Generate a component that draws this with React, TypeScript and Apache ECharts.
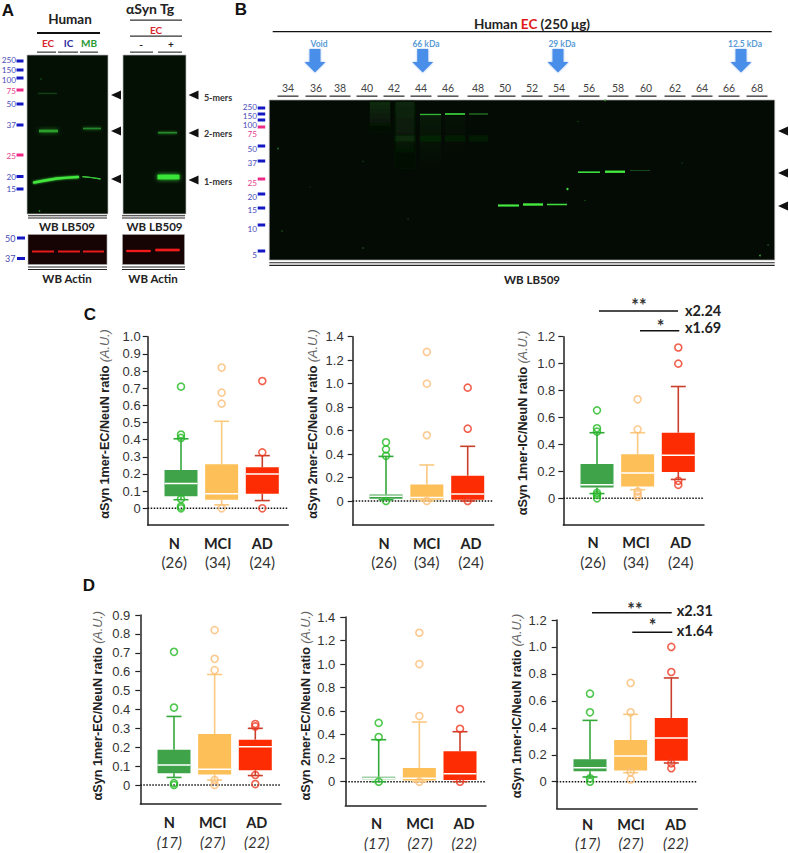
import React, { useEffect, useRef } from "react";
import * as echarts from "echarts";

// ---------- chart values (low, q1, median, q3, high) per group N / MCI / AD ----------
const GROUPS = ["N", "MCI", "AD"];
const COUNTS_C = ["(26)", "(34)", "(24)"];
const COUNTS_D = ["(17)", "(27)", "(22)"];

const C1_BOX = [[0.05, 0.07, 0.144, 0.223, 0.405], [0.02, 0.05, 0.085, 0.256, 0.507], [0.045, 0.085, 0.2, 0.239, 0.307]];
const C1_OUT = [[0.709, 0.43, 0.41, 0.054, 0.01, 0], [0.82, 0.674, 0.61, 0], [0.742, 0.326, 0]];
const C2_BOX = [[0.01, 0.02, 0.04, 0.055, 0.38], [0, 0.01, 0.03, 0.14, 0.307], [0, 0.01, 0.06, 0.216, 0.466]];
const C2_OUT = [[0.5, 0.44, 0.385, 0], [1.27, 1.0, 0.56, 0], [0.966, 0.616, 0]];
const C3_BOX = [[0.035, 0.08, 0.1, 0.255, 0.487], [0.064, 0.087, 0.188, 0.327, 0.487], [0.14, 0.195, 0.32, 0.487, 0.83]];
const C3_OUT = [[0.653, 0.52, 0.495, 0.04, 0.025, 0], [0.735, 0.512, 0.05, 0.03, 0.01], [1.12, 1.0, 0.13, 0.1]];
const D1_BOX = [[0.04, 0.062, 0.106, 0.187, 0.363], [0.026, 0.056, 0.083, 0.27, 0.585], [0.05, 0.078, 0.203, 0.24, 0.3]];
const D1_OUT = [[0.705, 0.41, 0.01, 0], [0.82, 0.668, 0.608, 0.026, 0], [0.323, 0.31, 0.053, 0.005]];
const D2_BOX = [[0, 0.02, 0.03, 0.042, 0.357], [0, 0.01, 0.03, 0.116, 0.507], [0, 0.014, 0.068, 0.258, 0.425]];
const D2_OUT = [[0.5, 0.38, 0], [1.266, 1.0, 0.558, 0], [0.618, 0.45, 0]];
const D3_BOX = [[0.035, 0.077, 0.104, 0.166, 0.455], [0.067, 0.084, 0.19, 0.31, 0.5], [0.139, 0.156, 0.324, 0.473, 0.77]];
const D3_OUT = [[0.653, 0.515, 0.025, 0], [0.733, 0.515, 0.07, 0.017], [1.0, 0.814, 0.136, 0.1]];

const TICKS_10 = [0, 0.1, 0.2, 0.3, 0.4, 0.5, 0.6, 0.7, 0.8, 0.9, 1.0];
const TICKS_09 = [0, 0.1, 0.2, 0.3, 0.4, 0.5, 0.6, 0.7, 0.8, 0.9];
const TICKS_14 = [0, 0.2, 0.4, 0.6, 0.8, 1.0, 1.2, 1.4];
const TICKS_12 = [0, 0.2, 0.4, 0.6, 0.8, 1.0, 1.2];

const LANES = ["34","36","38","40","42","44","46","48","50","52","54","56","58","60","62","64","66","68"];
const SEC_MARKERS = ["Void", "66 kDa", "29 kDa", "12.5 kDa"];
const MW_B = ["250","150","100","75","50","37","25","20","15","10","5"];
const MW_A = ["250","150","100","75","50","37","25","20","15"];
const OLIGOMERS = ["5-mers", "2-mers", "1-mers"];

// ---------- layout ----------
const SANS = "'Liberation Sans', Arial, sans-serif";
const LATO = "Lato, 'Open Sans', sans-serif";
const FILL = ["#3fa34a", "#fdbf57", "#fe2c02"];
const WHISK = ["#35a83c", "#fbc97f", "#c8402c"];
const RING = ["#22b922", "#fbbd74", "#ef3a22"];
const BOX_W = 33;
const CAP_W = 15;

const PANELS = [
  { box: C1_BOX, out: C1_OUT, ticks: TICKS_10, left: 147.7, right: 288.3, top: 336.7, zero: 508.3, bottom: 525, max: 1.0, c: [181, 222, 262.3], labelX: [174.3, 217.7, 262.3], labelY: 543.3, countY: 561.7, counts: COUNTS_C, italic: false, title: "αSyn 1mer-EC/NeuN ratio", titleX: 105, titleY: 424, margin: 7 },
  { box: C2_BOX, out: C2_OUT, ticks: TICKS_14, left: 352.7, right: 493.7, top: 336.7, zero: 501, bottom: 525, max: 1.4, c: [386, 427.3, 467.7], labelX: [384, 426.7, 471], labelY: 543.3, countY: 561.7, counts: COUNTS_C, italic: false, title: "αSyn 2mer-EC/NeuN ratio", titleX: 313.3, titleY: 424, margin: 9 },
  { box: C3_BOX, out: C3_OUT, ticks: TICKS_12, left: 563.3, right: 704, top: 336.7, zero: 498.3, bottom: 525, max: 1.2, c: [597, 637.7, 678.3], labelX: [593, 636, 680.7], labelY: 542.7, countY: 561.7, counts: COUNTS_C, italic: false, title: "αSyn 1mer-IC/NeuN ratio", titleX: 523, titleY: 423, margin: 8 },
  { box: D1_BOX, out: D1_OUT, ticks: TICKS_09, left: 140.3, right: 281, top: 615, zero: 785, bottom: 804, max: 0.9, c: [174, 214.7, 255.3], labelX: [169.3, 212.7, 256.7], labelY: 822.7, countY: 842.3, counts: COUNTS_D, italic: true, title: "αSyn 1mer-EC/NeuN ratio", titleX: 98, titleY: 705.7, margin: 10 },
  { box: D2_BOX, out: D2_OUT, ticks: TICKS_14, left: 345.3, right: 486, top: 617, zero: 781.7, bottom: 805.3, max: 1.4, c: [378.7, 419.7, 460], labelX: [376.7, 420, 464], labelY: 823, countY: 842.7, counts: COUNTS_D, italic: true, title: "αSyn 2mer-EC/NeuN ratio", titleX: 305.7, titleY: 705.7, margin: 10 },
  { box: D3_BOX, out: D3_OUT, ticks: TICKS_12, left: 556.7, right: 697.3, top: 620, zero: 781.7, bottom: 808.3, max: 1.2, c: [590, 631, 671.3], labelX: [587.7, 631, 675.7], labelY: 824, countY: 843.3, counts: COUNTS_D, italic: true, title: "αSyn 1mer-IC/NeuN ratio", titleX: 516.7, titleY: 706, margin: 10 },
];

// ---------- graphic helpers ----------
type Align = "left" | "center" | "right";
const txt = (text: string, x: number, y: number, size: number, fill = "#222", weight: any = "normal", align: Align = "center", family = LATO, fontStyle = "normal") => ({
  type: "text", x, y, silent: true,
  style: { text, fontSize: size, fontWeight: weight, fontFamily: family, fontStyle, fill, align, verticalAlign: "middle", lineHeight: size * 0.9 },
});
const rect = (x: number, y: number, w: number, h: number, fill: any, extra: any = {}) => ({
  type: "rect", silent: true, shape: { x, y, width: w, height: h }, style: { fill, ...extra },
});
const band = (x: number, y: number, w: number, h: number, fill: string, blur = 2, glow = fill) =>
  rect(x, y - h / 2, w, h, fill, { shadowBlur: blur, shadowColor: glow });
const curve = (pts: number[][], w: number, stroke: string, blur = 2) => ({
  type: "polyline", silent: true, shape: { points: pts },
  style: { stroke, lineWidth: w, lineCap: "round", fill: "none", shadowBlur: blur, shadowColor: stroke },
});
const leftTri = (x: number, y: number) => ({
  type: "polygon", silent: true, shape: { points: [[x, y], [x + 10, y - 4.5], [x + 10, y + 4.5]] }, style: { fill: "#111" },
});
const dot = (x: number, y: number, r: number, fill: string) => ({
  type: "circle", silent: true, shape: { cx: x, cy: y, r }, style: { fill },
});
const fade = (from: string, to: string) =>
  new echarts.graphic.LinearGradient(0, 0, 0, 1, [{ offset: 0, color: from }, { offset: 1, color: to }]);

const INK = "#222";
const BLUE_TXT = "#4b4bb8";
const PINK_TXT = "#e63f8e";
const BLUE_TK = "#1418c4";
const PINK_TK = "#ee2a86";
const BLOT_G = "#051005";
const BLOT_B = "#040b04";
const BLOT_R = "#160404";

function figureGraphics(): any[] {
  const g: any[] = [];
  // ---- panel letters
  g.push(txt("A", 8, 10, 17, "#111", "bold", "center", SANS));
  g.push(txt("B", 241, 9, 17, "#111", "bold", "center", SANS));
  g.push(txt("C", 90, 314, 17, "#111", "bold", "center", SANS));
  g.push(txt("D", 89, 585, 17, "#111", "bold", "center", SANS));

  // ---- A: headers
  g.push(txt("Human", 70, 19, 13.5, "#222", "bold"));
  g.push(rect(37, 32, 63, 2, "#111"));
  g.push(txt("EC", 48, 43, 10, "#d8272d", "bold"));
  g.push(txt("IC", 68.5, 43, 10, "#2f2f9f", "bold"));
  g.push(txt("MB", 89, 43, 10, "#2a9a35", "bold"));
  [[37, 19], [58, 20], [80, 18], [130, 23], [158, 24]].forEach(([x, w]) => g.push(rect(x, 51.5, w, 1.3, "#444")));
  g.push(txt("αSyn Tg", 150, 8, 14, "#222", "bold"));
  g.push(rect(130, 19.5, 52, 1.3, "#333"));
  g.push(txt("EC", 156, 30, 10, "#d8272d", "bold"));
  g.push(rect(130, 35.5, 52, 1.3, "#333"));
  g.push(txt("-", 141, 44, 10, "#222", "bold"));
  g.push(txt("+", 171, 44, 10, "#222", "bold"));

  // ---- A: blots
  g.push(rect(27, 55, 81, 159, BLOT_G, { stroke: "#bbb", lineWidth: 0.7 }));
  g.push(rect(123, 55, 63, 159, BLOT_G, { stroke: "#bbb", lineWidth: 0.7 }));
  g.push(curve([[34, 182.5], [45, 180.5], [57, 178.5], [68, 177.7], [78, 177]], 2.3, "#42e83c"));
  g.push(curve([[83, 176.7], [91, 177.5], [100, 178.8]], 1.2, "#39c437", 1.5));
  g.push(band(39, 131, 19, 2.8, "#2aa02c", 5, "#1f7a22"));
  g.push(band(83, 128.5, 18, 1.8, "#24882a", 4, "#1a6a1f"));
  g.push(band(38, 93.3, 19, 0.8, "#154a18", 2));
  g.push(dot(41, 79, 0.8, "#154a18"));
  g.push(dot(39.5, 211, 0.8, "#2a8f2a"));
  g.push(band(158, 132.7, 19, 1.6, "#268a2b", 3));
  g.push(band(157.5, 177, 22, 4.8, "#39e437", 4));
  // A: molecular weight ladder
  const yA = [61, 70, 78, 90, 104, 125, 155, 176.5, 189];
  const yAText = [60, 70, 79.5, 91, 104, 125, 156, 176.5, 189];
  MW_A.forEach((m, i) => {
    const pink = m === "75" || m === "25";
    g.push(txt(m, 16, yAText[i], 8.2, pink ? PINK_TXT : BLUE_TXT, "normal", "right"));
    g.push(rect(16.5, yA[i] - 1.5, 7, 3, pink ? PINK_TK : BLUE_TK));
  });
  // A: arrowheads + labels
  [95, 131, 179].forEach((y) => g.push(leftTri(111, y)));
  [95, 133, 180].forEach((y) => g.push(leftTri(188.5, y)));
  OLIGOMERS.forEach((s, i) => g.push(txt(s, 218, [97, 133, 181][i], 9, "#333", "bold")));
  // A: double rules and blot captions
  [[28, 79], [122, 63]].forEach(([x, w]) => {
    [215.2, 217.6, 266.5, 268.9].forEach((y) => g.push(rect(x, y, w, 1, "#222")));
  });
  g.push(txt("WB LB509", 67, 226, 11.5, INK, "bold"));
  g.push(txt("WB LB509", 154.5, 226, 11.5, INK, "bold"));
  g.push(txt("WB Actin", 67, 278, 11.5, INK, "bold"));
  g.push(txt("WB Actin", 153, 278, 11.5, INK, "bold"));
  // A: actin
  g.push(rect(28, 234.5, 79, 30, BLOT_R, { stroke: "#aaa", lineWidth: 0.6 }));
  g.push(rect(122.5, 234.5, 62, 30, BLOT_R, { stroke: "#aaa", lineWidth: 0.6 }));
  [[32, 22], [58, 22], [83, 21]].forEach(([x, w]) => g.push(band(x, 251.5, w, 1.6, "#e21a1a", 1.5)));
  g.push(band(126.5, 251, 24, 2.2, "#f01c1c", 1.5));
  g.push(band(155.5, 250, 24, 2.4, "#f01c1c", 1.5));
  [["50", 238], ["37", 258.5]].forEach(([m, y]: any) => {
    g.push(txt(m, 15.5, y, 9, BLUE_TXT, "normal", "right"));
    g.push(rect(17, y - 1.5, 8, 3, BLUE_TK));
  });

  // ---- B: header
  g.push({
    type: "text", x: 532, y: 24, silent: true,
    style: {
      text: "{a|Human }{r|EC}{a| (250 μg)}", align: "center", verticalAlign: "middle",
      rich: {
        a: { fontSize: 13.5, fontWeight: "bold", fontFamily: LATO, fill: "#222", color: "#222" },
        r: { fontSize: 13.5, fontWeight: "bold", fontFamily: LATO, fill: "#e21a1a", color: "#e21a1a" },
      },
    },
  });
  g.push(rect(272.7, 31, 499, 1.3, "#111"));
  // B: fraction arrows
  const arrowX = [315, 422.7, 558, 741];
  const labelX = [319, 426, 562, 745];
  SEC_MARKERS.forEach((s, i) => {
    const x = arrowX[i];
    g.push(txt(s, labelX[i], 44, 8.5, "#5b9bd5", "bold"));
    g.push({
      type: "polygon", silent: true,
      shape: { points: [[x - 5.5, 49], [x + 5.5, 49], [x + 5.5, 62], [x + 10.5, 62], [x, 72.5], [x - 10.5, 62], [x - 5.5, 62]] },
      style: { fill: "#4a8ee8", shadowBlur: 2, shadowColor: "#9cc0ee" },
    });
  });
  // B: lanes
  const laneX = [288, 316, 340, 367, 394, 421, 448, 478, 505, 532, 559, 589, 618, 646, 675, 702, 729, 757];
  LANES.forEach((l, i) => {
    g.push(txt(l, laneX[i], 88, 10.5, "#444"));
    g.push(rect(laneX[i] - 10.5, 95.5, 21, 1.3, "#333"));
  });
  // B: blot
  g.push(rect(269.3, 100, 505.4, 160, BLOT_B, { stroke: "#aaa", lineWidth: 0.7 }));
  g.push(rect(370, 102, 20, 30, fade("#0d2c0d", BLOT_B), { shadowBlur: 3, shadowColor: "#081a08" }));
  g.push(rect(395.5, 102, 19, 66, fade("#0b260b", BLOT_B), { shadowBlur: 3, shadowColor: "#061206" }));
  g.push(rect(420, 116, 21, 54, fade("#081a08", BLOT_B)));
  g.push(rect(445, 116, 20, 40, fade("#061206", BLOT_B)));
  [[395.5, 19, 0.7], [420, 21, 0.4], [445, 20, 0.3], [469, 19, 0.3]].forEach(([x, w, o]) =>
    g.push(rect(x, 135.5, w, 6, "#0e2c0e", { opacity: o, shadowBlur: 2, shadowColor: "#0e2c0e" })),
  );
  g.push(band(420, 114.5, 21, 1.2, "#33b833", 1.5));
  g.push(band(445, 114, 20, 1.4, "#36c836", 1.5));
  g.push(band(469, 114, 19, 0.9, "#206f24", 1.5));
  g.push(band(578, 172.3, 22, 1.4, "#3bdc3b", 1.5));
  g.push(band(605, 171.7, 20, 1.9, "#44ec3f", 1.5));
  g.push(band(630, 170.5, 20, 0.8, "#184a1b", 1.5));
  g.push(band(498, 205.5, 21, 1.7, "#45ea40", 1.5));
  g.push(band(523, 204.5, 20, 1.9, "#45ea40", 1.5));
  g.push(band(547, 204.5, 20, 1.3, "#40dc3c", 1.5));
  [[567.5, 189, 1.2, "#3bd83b"], [278, 148.5, 0.8, "#1f7a1f"], [363, 161.5, 0.6, "#1b5a1b"], [363, 248, 0.7, "#2a7a2a"], [282, 231, 0.7, "#1f7a1f"], [408, 219, 0.6, "#1b5a1b"], [310, 187, 0.6, "#123f12"], [768, 245, 0.7, "#2a7a2a"], [760, 255.5, 0.9, "#33a033"], [585, 200.5, 0.6, "#1f6a1f"], [605, 100.5, 0.9, "#2a8a2a"], [578, 121.5, 0.7, "#1a4f1a"], [682, 163, 0.6, "#1a4f1a"]].forEach(([x, y, r, c]: any) =>
    g.push(dot(x, y, r, c)),
  );
  // B: ladder
  const yB = [106.5, 116, 125, 134, 149, 163, 183, 197, 210, 229, 255];
  const yBTk = [108, 114, 120, 127, 146, 161, 179, 194, 208, 225, 251];
  MW_B.forEach((m, i) => {
    const pink = m === "75" || m === "25";
    g.push(txt(m, 257, yB[i], 8.2, pink ? PINK_TXT : BLUE_TXT, "normal", "right"));
    g.push(rect(257.7, yBTk[i] - 1.5, 7.5, 3, pink ? PINK_TK : BLUE_TK));
  });
  [131, 173, 206].forEach((y) => g.push(leftTri(778, y)));
  g.push(rect(269.3, 262.3, 505.4, 1, "#222"));
  g.push(rect(269.3, 264.7, 505.4, 1.2, "#222"));
  g.push(txt("WB LB509", 532, 279, 11.5, INK, "bold"));

  // ---- chart captions: axis titles, groups, n
  PANELS.forEach((p) => {
    g.push({
      type: "text", x: p.titleX, y: p.titleY, rotation: Math.PI / 2, silent: true,
      style: {
        text: `{a|${p.title}} {b|(A.U.)}`, align: "center", verticalAlign: "middle",
        rich: {
          a: { fontSize: 12.6, fontWeight: "bold", fontFamily: SANS, fill: "#222", color: "#222" },
          b: { fontSize: 12.6, fontStyle: "italic", fontFamily: SANS, fill: "#666", color: "#666" },
        },
      },
    });
    GROUPS.forEach((name, i) => {
      g.push(txt(name, p.labelX[i], p.labelY, 14.5, "#222", "bold"));
      g.push(txt(p.counts[i], p.labelX[i], p.countY, 15, "#333", "normal", "center", LATO, p.italic ? "italic" : "normal"));
    });
  });

  // ---- significance
  const sig = (x1: number, x2: number, y: number, stars: string, sx: number, sy: number, fold: string, fx: number, fy: number) => {
    g.push(rect(x1, y - 0.8, x2 - x1, 1.6, "#111"));
    g.push(txt(stars, sx, sy + 3, 18, "#333", "bold"));
    g.push(txt(fold, fx, fy, 14.5, "#222", "bold", "left"));
  };
  sig(599, 678, 311, "**", 639, 302, "x2.24", 685, 310);
  sig(640, 679.3, 330.7, "*", 660.7, 323, "x1.69", 685, 327);
  sig(592, 671.7, 612.7, "**", 635, 606, "x2.31", 676.7, 610);
  sig(632.3, 672.3, 632.3, "*", 652.7, 622, "x1.64", 676.7, 630);
  return g;
}

// ---------- box drawn through the axis scales ----------
function renderBox(_: any, api: any) {
  const i = api.value(0);
  const cx = api.coord([i, 0])[0];
  const y = (v: number) => api.coord([i, v])[1];
  const [low, q1, med, q3, high] = [1, 2, 3, 4, 5].map((d) => y(api.value(d)));
  const idx = Math.round(i);
  const wStyle = { stroke: WHISK[idx], lineWidth: 1.6, fill: "none" };
  const ln = (x1: number, y1: number, x2: number, y2: number, style: any) => ({ type: "line", shape: { x1, y1, x2, y2 }, style });
  return {
    type: "group",
    children: [
      ln(cx, high, cx, q3, wStyle),
      ln(cx, q1, cx, low, wStyle),
      ln(cx - CAP_W / 2, high, cx + CAP_W / 2, high, wStyle),
      ln(cx - CAP_W / 2, low, cx + CAP_W / 2, low, wStyle),
      { type: "rect", shape: { x: cx - BOX_W / 2, y: q3, width: BOX_W, height: q1 - q3 }, style: { fill: FILL[idx] } },
      ln(cx - BOX_W / 2, med, cx + BOX_W / 2, med, { stroke: "#fff", lineWidth: 1.5, fill: "none" }),
    ],
  };
}

function buildOption(): any {
  const grid: any[] = [], xAxis: any[] = [], yAxis: any[] = [], series: any[] = [];
  PANELS.forEach((p, k) => {
    const bandPx = (p.c[2] - p.c[0]) / 2;
    const xMin = (p.left - p.c[0]) / bandPx;
    const xMax = (p.right - p.c[0]) / bandPx;
    const unitPx = (p.zero - p.top) / p.max;
    const yMin = -(p.bottom - p.zero) / unitPx;
    const axisLine = { show: true, onZero: false, lineStyle: { color: "#222", width: 1.5 } };
    grid.push({ left: p.left, top: p.top, width: p.right - p.left, height: p.bottom - p.top });
    xAxis.push({
      type: "value", gridIndex: k, min: xMin, max: xMax, axisLine,
      axisTick: { show: false }, axisLabel: { show: false }, splitLine: { show: false },
    });
    yAxis.push({
      type: "value", gridIndex: k, min: yMin, max: p.max, axisLine, splitLine: { show: false },
      axisTick: { show: true, length: 5, customValues: p.ticks, lineStyle: { color: "#222", width: 1.2 } },
      axisLabel: {
        show: true, customValues: p.ticks, margin: p.margin, fontSize: 13, color: "#333", fontFamily: SANS,
        formatter: (v: number) => (Math.abs(v) < 1e-9 ? "0" : v.toFixed(1)),
      },
    });
    series.push({
      type: "line", xAxisIndex: k, yAxisIndex: k, z: 1, silent: true, showSymbol: false, symbol: "none",
      data: [[xMin, 0], [xMax, 0]],
      lineStyle: { type: "dotted", color: "#111", width: 1.5 },
    });
    series.push({
      type: "custom", xAxisIndex: k, yAxisIndex: k, z: 2, silent: true, renderItem: renderBox,
      encode: { x: 0, y: [1, 2, 3, 4, 5] },
      data: p.box.map((row, i) => [i, ...row]),
    });
    GROUPS.forEach((_, i) => {
      series.push({
        type: "scatter", xAxisIndex: k, yAxisIndex: k, z: 3, silent: true, symbol: "circle", symbolSize: 7,
        itemStyle: { color: "transparent", borderColor: RING[i], borderWidth: 1.6 },
        data: p.out[i].map((v) => [i, v]),
      });
    });
  });
  return {
    animation: false,
    backgroundColor: "#fff",
    tooltip: { show: false },
    grid, xAxis, yAxis, series,
    graphic: { elements: figureGraphics() },
  };
}

export default function App() {
  const ref = useRef<HTMLDivElement>(null);
  useEffect(() => {
    const chart = echarts.init(ref.current as HTMLDivElement, undefined, { renderer: "svg" });
    chart.setOption(buildOption());
    return () => chart.dispose();
  }, []);
  return <div ref={ref} style={{ position: "absolute", left: 0, top: 0, width: 789, height: 853 }} />;
}
